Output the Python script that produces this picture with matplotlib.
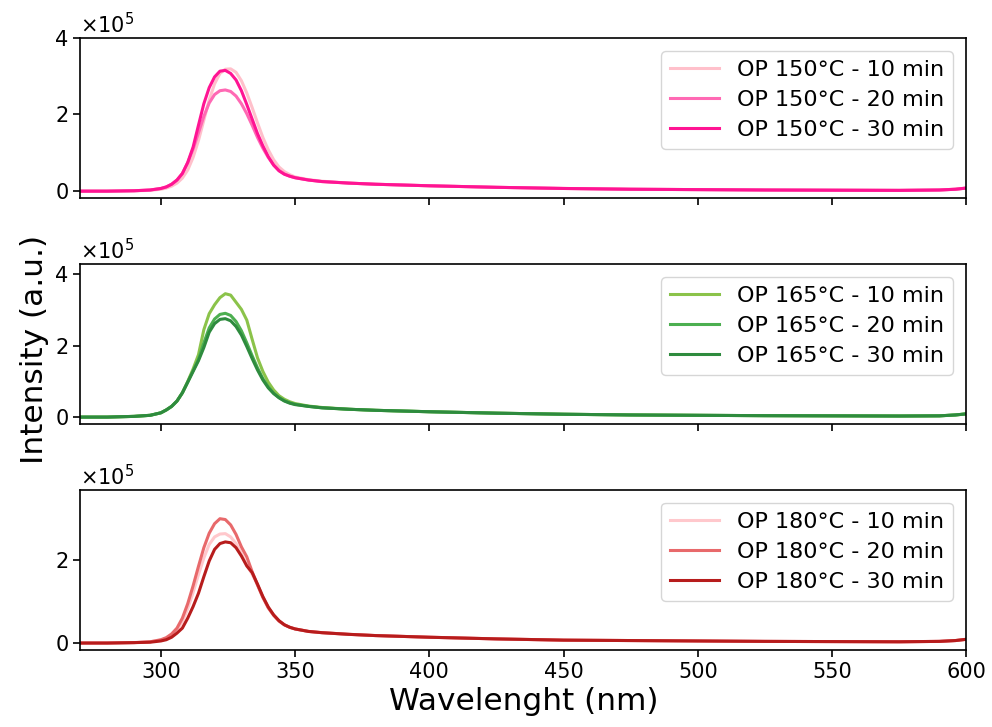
import matplotlib.pyplot as plt
from matplotlib.ticker import MultipleLocator
import numpy as np

# wavelength grid (nm), denser around the emission peak
wavelength = [270, 280, 290, 296,
              300, 302, 304, 306, 308, 310, 312, 314, 316, 318, 320, 322, 324,
              326, 328, 330, 332, 334, 336, 338, 340, 342, 344, 346, 348, 350,
              355, 360, 370, 380, 400, 425, 450, 475, 500, 525, 550, 575, 590, 596, 600]

# intensities in units of 1e5 counts
op150_10 = [0.00, 0.00, 0.01, 0.02,
            0.05, 0.08, 0.13, 0.21, 0.34, 0.55, 0.88, 1.32, 1.85, 2.38, 2.80, 3.07, 3.18,
            3.19, 3.10, 2.88, 2.56, 2.18, 1.78, 1.40, 1.08, 0.82, 0.63, 0.51, 0.43, 0.37,
            0.30, 0.26, 0.21, 0.18, 0.14, 0.10, 0.07, 0.05, 0.04, 0.03, 0.025, 0.02, 0.03, 0.05, 0.08]
op150_20 = [0.00, 0.00, 0.01, 0.03,
            0.07, 0.11, 0.18, 0.29, 0.46, 0.74, 1.10, 1.52, 1.95, 2.30, 2.52, 2.62, 2.64,
            2.60, 2.48, 2.28, 2.02, 1.72, 1.40, 1.12, 0.88, 0.68, 0.54, 0.45, 0.39, 0.35,
            0.29, 0.25, 0.21, 0.18, 0.14, 0.10, 0.07, 0.05, 0.04, 0.03, 0.025, 0.02, 0.03, 0.05, 0.08]
op150_30 = [0.00, 0.00, 0.01, 0.03,
            0.07, 0.11, 0.18, 0.29, 0.46, 0.75, 1.15, 1.72, 2.28, 2.70, 2.98, 3.13, 3.15,
            3.07, 2.90, 2.62, 2.26, 1.88, 1.50, 1.18, 0.90, 0.68, 0.53, 0.44, 0.39, 0.35,
            0.29, 0.25, 0.21, 0.18, 0.14, 0.10, 0.07, 0.05, 0.04, 0.03, 0.025, 0.02, 0.03, 0.05, 0.08]

op165_10 = [0.00, 0.00, 0.02, 0.05,
            0.12, 0.20, 0.30, 0.45, 0.68, 1.00, 1.35, 1.75, 2.45, 2.90, 3.15, 3.35, 3.46,
            3.42, 3.22, 3.02, 2.72, 2.18, 1.66, 1.28, 0.98, 0.76, 0.60, 0.50, 0.43, 0.38,
            0.31, 0.27, 0.22, 0.19, 0.15, 0.11, 0.08, 0.06, 0.05, 0.04, 0.035, 0.03, 0.035, 0.06, 0.09]
op165_20 = [0.00, 0.00, 0.02, 0.05,
            0.12, 0.20, 0.30, 0.45, 0.68, 0.98, 1.30, 1.62, 2.08, 2.50, 2.75, 2.88, 2.91,
            2.85, 2.68, 2.42, 2.08, 1.72, 1.38, 1.08, 0.85, 0.67, 0.55, 0.46, 0.40, 0.36,
            0.30, 0.26, 0.22, 0.19, 0.15, 0.11, 0.08, 0.06, 0.05, 0.04, 0.035, 0.03, 0.035, 0.06, 0.09]
op165_30 = [0.00, 0.00, 0.02, 0.05,
            0.12, 0.20, 0.30, 0.45, 0.68, 0.98, 1.28, 1.58, 1.95, 2.38, 2.62, 2.74, 2.76,
            2.70, 2.54, 2.30, 1.98, 1.64, 1.32, 1.04, 0.82, 0.66, 0.54, 0.45, 0.39, 0.35,
            0.30, 0.26, 0.22, 0.19, 0.15, 0.11, 0.08, 0.06, 0.05, 0.04, 0.035, 0.03, 0.035, 0.06, 0.09]

op180_10 = [0.00, 0.00, 0.01, 0.03,
            0.07, 0.11, 0.19, 0.31, 0.52, 0.83, 1.22, 1.65, 2.05, 2.38, 2.56, 2.63, 2.64,
            2.56, 2.40, 2.16, 1.88, 1.66, 1.40, 1.10, 0.85, 0.67, 0.53, 0.44, 0.38, 0.34,
            0.28, 0.25, 0.21, 0.18, 0.14, 0.10, 0.07, 0.06, 0.05, 0.04, 0.035, 0.03, 0.04, 0.06, 0.09]
op180_20 = [0.00, 0.00, 0.01, 0.03,
            0.08, 0.13, 0.22, 0.36, 0.60, 0.95, 1.38, 1.85, 2.30, 2.65, 2.88, 3.00, 2.98,
            2.85, 2.62, 2.32, 2.08, 1.72, 1.40, 1.10, 0.85, 0.67, 0.53, 0.44, 0.38, 0.34,
            0.28, 0.25, 0.21, 0.18, 0.14, 0.10, 0.07, 0.06, 0.05, 0.04, 0.035, 0.03, 0.04, 0.06, 0.09]
op180_30 = [0.00, 0.00, 0.01, 0.02,
            0.05, 0.08, 0.14, 0.24, 0.36, 0.60, 0.88, 1.20, 1.60, 1.98, 2.26, 2.40, 2.44,
            2.42, 2.30, 2.10, 1.86, 1.70, 1.42, 1.12, 0.87, 0.68, 0.54, 0.44, 0.38, 0.34,
            0.28, 0.25, 0.21, 0.18, 0.14, 0.10, 0.07, 0.06, 0.05, 0.04, 0.035, 0.03, 0.04, 0.06, 0.09]

SCALE = 1e5
times = ['10 min', '20 min', '30 min']

panels = [
    ('150', [op150_10, op150_20, op150_30], ['#ffc0cb', '#ff69b4', '#ff1493'], 4.0),
    ('165', [op165_10, op165_20, op165_30], ['#8bc34a', '#4caf50', '#2e8b3e'], 4.3),
    ('180', [op180_10, op180_20, op180_30], ['#ffc8cc', '#e8696b', '#b71c1c'], 3.7),
]

fig, axes = plt.subplots(3, 1, figsize=(9.92, 7.27), dpi=100, sharex=True)
fig.subplots_adjust(left=0.081, right=0.974, top=0.948, bottom=0.106, hspace=0.41)

x = np.array(wavelength)
for ax, (temp, series, colors, ytop) in zip(axes, panels):
    for vals, col, t in zip(series, colors, times):
        ax.plot(x, np.array(vals) * SCALE, color=col, lw=2.2,
                label=f'OP {temp}°C - {t}')
    ax.set_xlim(270, 600)
    ax.set_ylim(-0.045 * ytop * SCALE, ytop * SCALE)
    ax.yaxis.set_major_locator(MultipleLocator(2 * SCALE))
    ax.ticklabel_format(axis='y', style='sci', scilimits=(0, 0), useMathText=True)
    ax.yaxis.get_offset_text().set_fontsize(15)
    ax.tick_params(labelsize=15, width=1.2, length=5)
    for sp in ax.spines.values():
        sp.set_linewidth(1.2)
    ax.legend(loc='upper right', fontsize=16, handlelength=2.2,
              labelspacing=0.45, borderaxespad=0.6)

axes[-1].set_xticks([300, 350, 400, 450, 500, 550, 600])
axes[-1].set_xlabel('Wavelenght (nm)', fontsize=22.5)
fig.text(0.035, 0.52, 'Intensity (a.u.)', rotation=90, fontsize=22.5,
         ha='center', va='center')

fig.savefig('out.png', dpi=100)
